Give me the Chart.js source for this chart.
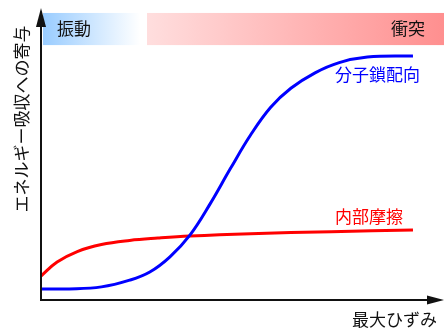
<!DOCTYPE html>
<html>
<head>
<meta charset="utf-8">
<script src="https://cdn.jsdelivr.net/npm/chart.js@4.4.1/dist/chart.umd.min.js"></script>
<style>
  html, body { margin: 0; padding: 0; background: #fff; }
  #wrap { width: 444px; height: 332px; }
</style>
</head>
<body>
<div id="wrap"><canvas id="chart" width="444" height="332"></canvas></div>
<script>
// strain (x) values, 0..100 along the axis
const orientX = [0, 7, 15, 22, 27, 32, 37, 42, 47, 52, 57, 62, 68, 74, 81, 92.3];
const orientY = [3.8, 3.8, 4.5, 6.8, 9.6, 14.8, 22.3, 33.0, 45.0, 56.5, 66.0, 72.5, 77.8, 81.3, 83.2, 83.6];

const frictionX = [0, 4, 9, 15, 22, 29, 37, 52, 72, 92.3];
const frictionY = [8.2, 13.0, 16.6, 19.0, 20.4, 21.2, 21.9, 22.7, 23.4, 24.0];

const seriesNames = ['分子鎖配向', '内部摩擦'];
const bandLabels = ['振動', '衝突'];
const xTitle = '最大ひずみ';
const yTitle = 'エネルギー吸収への寄与';

const FONT = '"Noto Sans CJK JP", "Noto Sans", sans-serif';

function toPoints(xs, ys) {
    return xs.map((x, i) => ({ x: x, y: ys[i] }));
}

// background band + axes with arrows + labels
const decor = {
    id: 'decor',
    beforeDatasetsDraw(chart) {
        const ctx = chart.ctx;
        const xs = chart.scales.x, ys = chart.scales.y;
        const top = ys.getPixelForValue(98.3), bot = ys.getPixelForValue(87.3);

        // blue part (vibration)
        const b0 = xs.getPixelForValue(0.5), b1 = xs.getPixelForValue(24.6);
        let g = ctx.createLinearGradient(b0, 0, b1, 0);
        g.addColorStop(0, '#99ccff');
        g.addColorStop(1, '#ffffff');
        ctx.fillStyle = g;
        ctx.fillRect(b0, top, b1 - b0, bot - top);

        // red part (impact)
        const r0 = xs.getPixelForValue(26.3), r1 = xs.getPixelForValue(100);
        g = ctx.createLinearGradient(r0, 0, r1, 0);
        g.addColorStop(0, '#ffdede');
        g.addColorStop(1, '#ff8f8f');
        ctx.fillStyle = g;
        ctx.fillRect(r0, top, r1 - r0, bot - top);

        ctx.save();
        ctx.font = '17px ' + FONT;
        ctx.fillStyle = '#111';
        ctx.textBaseline = 'middle';
        const midY = (top + bot) / 2;
        ctx.textAlign = 'left';
        ctx.fillText(bandLabels[0], b0 + 14, midY);
        ctx.textAlign = 'right';
        ctx.fillText(bandLabels[1], r1 - 19, midY);
        ctx.restore();
    },
    afterDatasetsDraw(chart) {
        const ctx = chart.ctx;
        const xs = chart.scales.x, ys = chart.scales.y;
        const ox = xs.getPixelForValue(0), oy = ys.getPixelForValue(0);
        const ex = xs.getPixelForValue(100), ey = ys.getPixelForValue(100);

        ctx.save();
        ctx.strokeStyle = '#111';
        ctx.fillStyle = '#111';
        ctx.lineWidth = 2;
        ctx.beginPath();
        ctx.moveTo(ox, ey + 14);
        ctx.lineTo(ox, oy);
        ctx.lineTo(ex - 14, oy);
        ctx.stroke();
        // arrow heads
        ctx.beginPath();
        ctx.moveTo(ox, ey);
        ctx.lineTo(ox - 5, ey + 19);
        ctx.lineTo(ox + 5, ey + 19);
        ctx.closePath();
        ctx.fill();
        ctx.beginPath();
        ctx.moveTo(ex, oy);
        ctx.lineTo(ex - 17, oy - 4.5);
        ctx.lineTo(ex - 17, oy + 4.5);
        ctx.closePath();
        ctx.fill();

        // axis titles
        ctx.font = '17px ' + FONT;
        ctx.textBaseline = 'middle';
        ctx.textAlign = 'right';
        ctx.fillText(xTitle, ex - 7, oy + 20);
        ctx.save();
        ctx.translate(ox - 19, (ey + oy) / 2 - 35);
        ctx.rotate(-Math.PI / 2);
        ctx.textAlign = 'center';
        ctx.fillText(yTitle, 0, 0);
        ctx.restore();

        // series labels near line ends
        const bl = chart.getDatasetMeta(0).data;
        const rl = chart.getDatasetMeta(1).data;
        const bEnd = bl[bl.length - 1], rEnd = rl[rl.length - 1];
        ctx.fillStyle = '#0000ff';
        ctx.fillText(seriesNames[0], bEnd.x + 7, bEnd.y + 19);
        ctx.fillStyle = '#ff0000';
        ctx.fillText(seriesNames[1], rEnd.x - 10, rEnd.y - 13);
        ctx.restore();
    }
};

new Chart(document.getElementById('chart'), {
    type: 'line',
    data: {
        datasets: [{
            label: seriesNames[0],
            data: toPoints(orientX, orientY),
            borderColor: '#0000ff',
            borderWidth: 3,
            pointRadius: 0,
            tension: 0.4,
            fill: false
        }, {
            label: seriesNames[1],
            data: toPoints(frictionX, frictionY),
            borderColor: '#ff0000',
            borderWidth: 3,
            pointRadius: 0,
            tension: 0.4,
            fill: false
        }]
    },
    options: {
        responsive: false,
        animation: false,
        devicePixelRatio: 1,
        layout: { padding: { left: 41, right: 0, top: 8, bottom: 32 } },
        scales: {
            x: { type: 'linear', min: 0, max: 100, display: false },
            y: { type: 'linear', min: 0, max: 100, display: false }
        },
        plugins: {
            legend: { display: false },
            tooltip: { enabled: false }
        }
    },
    plugins: [decor]
});
</script>
</body>
</html>
